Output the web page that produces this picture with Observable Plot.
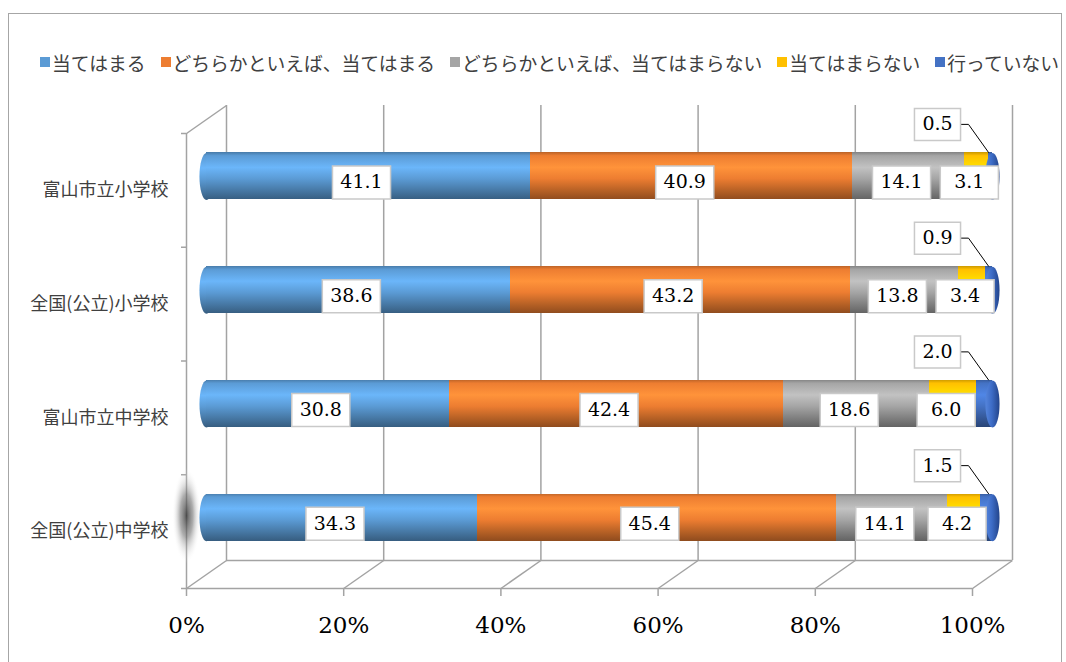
<!DOCTYPE html>
<html>
<head>
<meta charset="utf-8">
<script src="https://cdn.jsdelivr.net/npm/d3@7"></script>
<script src="https://cdn.jsdelivr.net/npm/@observablehq/plot@0.6"></script>
<style>
html, body { margin: 0; padding: 0; background: #fff; }
#wrap { position: relative; width: 1066px; height: 662px; overflow: hidden; }
#frame { position: absolute; left: 8px; top: 13px; width: 1054px; height: 720px; border: 1.5px solid #a6a6a6; box-sizing: border-box; pointer-events: none; }
#legend { position: relative; height: 90px; box-sizing: border-box; padding: 49px 0 0 40px; }
#legend .lg-swatches { font-family: "Noto Sans CJK JP", sans-serif !important; font-size: 18.8px !important; color: #404040; margin: 0 !important; white-space: nowrap; flex-wrap: nowrap !important; min-height: 26px !important; height: 26px; display: flex; align-items: center; }
#legend .lg-swatch { margin-right: 15px !important; white-space: nowrap; }
#legend .lg-swatch > svg { margin-right: 2px !important; }
#chart svg { display: block; }
</style>
</head>
<body>
<div id="wrap">
  <div id="frame"></div>
  <div id="legend"></div>
  <div id="chart"></div>
</div>
<script>
// ---- data ----
const categories = ["富山市立小学校", "全国(公立)小学校", "富山市立中学校", "全国(公立)中学校"];
const seriesNames = ["当てはまる", "どちらかといえば、当てはまる", "どちらかといえば、当てはまらない", "当てはまらない", "行っていない"];
const applies = [41.1, 38.6, 30.8, 34.3];
const ratherApplies = [40.9, 43.2, 42.4, 45.4];
const ratherNot = [14.1, 13.8, 18.6, 14.1];
const notApply = [3.1, 3.4, 6.0, 4.2];
const notDoing = [0.5, 0.9, 2.0, 1.5];
const tickValues = [0, 20, 40, 60, 80, 100];

const seriesValues = [applies, ratherApplies, ratherNot, notApply, notDoing];
const seriesColors = ["#5B9BD5", "#ED7D31", "#A5A5A5", "#FFC000", "#4472C4"];

// 100% stacked table
const table = [];
categories.forEach((cat, i) => {
  const total = d3.sum(seriesValues, v => v[i]);
  let acc = 0;
  seriesValues.forEach((vals, s) => {
    const v = vals[i];
    table.push({cat, i, s, series: seriesNames[s], value: v, x1: acc / total * 100, x2: (acc + v) / total * 100});
    acc += v;
  });
});
const catIdx = categories.map((c, i) => i);
const N = categories.length;

// ---- layout / style ----
const W = 1066, H = 572, ML = 186, MR = 94, MT = 43, MB = 74;
const kx = (W - ML - MR) / 100, ky = (H - MT - MB) / N;
const DX = 40, DY = -28;      // depth of the 3D box (px)
const MDX = 20, MDY = -14;    // bars sit at mid depth
const BAR_R = 23.5;           // cylinder radius (px)
const grid = {stroke: "#a3a3a3", strokeWidth: 1.5};

function ellipse(ratio) {
  return {draw(ctx, size) {
    const ry = Math.sqrt(size / Math.PI), rx = ry * ratio, k = 0.5523;
    ctx.moveTo(rx, 0);
    ctx.bezierCurveTo(rx, ry * k, rx * k, ry, 0, ry);
    ctx.bezierCurveTo(-rx * k, ry, -rx, ry * k, -rx, 0);
    ctx.bezierCurveTo(-rx, -ry * k, -rx * k, -ry, 0, -ry);
    ctx.bezierCurveTo(rx * k, -ry, rx, -ry * k, rx, 0);
    ctx.closePath();
  }};
}
function box(ratio) {
  return {draw(ctx, size) {
    const r = Math.sqrt(size / Math.PI), w = r * ratio;
    ctx.rect(-w, -r, 2 * w, 2 * r);
  }};
}

const inner = table.filter(d => d.s < 4);
const outer = table.filter(d => d.s === 4);
const leaderPts = outer.flatMap(d =>
  [[-12, -66], [-4, -66], [16, -38]].map(([px, py]) => ({i: d.i, x: 100 + px / kx, y: d.i + 0.5 + py / ky}))
);

const chart = Plot.plot({
  width: W, height: H,
  marginLeft: ML, marginRight: MR, marginTop: MT, marginBottom: MB,
  x: {domain: [0, 100], axis: null},
  y: {domain: [0, N], reverse: true, axis: null},
  style: {background: "transparent", overflow: "visible"},
  marks: [
    // 3D frame: back wall gridlines, floor, left wall
    Plot.ruleX(tickValues, {x: d => d, y1: 0, y2: N, dx: DX, dy: DY, ...grid}),
    Plot.ruleX([0], {x: d => d, y1: 0, y2: N, ...grid}),
    Plot.ruleY([N], {y: d => d, x1: 0, x2: 100, ...grid}),
    Plot.ruleY([N], {y: d => d, x1: 0, x2: 100, dx: DX, dy: DY, ...grid}),
    Plot.link(tickValues, {x1: d => d, y1: N, x2: d => d + DX / kx, y2: N + DY / ky, ...grid}),
    Plot.link([0], {x1: 0, y1: 0, x2: DX / kx, y2: DY / ky, ...grid}),
    Plot.ruleY(d3.range(N + 1), {y: d => d, x1: -5 / kx, x2: 0, ...grid}),
    Plot.ruleX(tickValues, {x: d => d, y1: N, y2: N + 8 / ky, ...grid}),
    // shadow artefact at the last bar's left end
    Plot.dot([N - 1], {x: 0, y: d => d + 0.5, r: 48, symbol: ellipse(0.3), fill: "url(#shadow)", dy: -16}),
    // cylinder left ends
    Plot.dot(catIdx, {x: 0, y: d => d + 0.5, r: BAR_R, symbol: ellipse(0.3), fill: "url(#cyl0)", dx: MDX, dy: MDY}),
    // cylinder segments
    ...seriesNames.map((n, s) => Plot.rect(table.filter(d => d.s === s), {
      x1: "x1", x2: "x2",
      y1: d => d.i + 0.5 - BAR_R / ky, y2: d => d.i + 0.5 + BAR_R / ky,
      fill: `url(#cyl${s})`, dx: MDX, dy: MDY, shapeRendering: "crispEdges"
    })),
    // cylinder right caps
    Plot.dot(catIdx, {x: 100, y: d => d + 0.5, r: BAR_R, symbol: ellipse(0.3), fill: "url(#cap)", dx: MDX, dy: MDY}),
    // data labels
    Plot.dot(inner, {x: d => (d.x1 + d.x2) / 2, y: d => d.i + 0.5, r: 16.5, symbol: box(1.76), fill: "#fff", stroke: "#c9c9c9", strokeWidth: 1.5, dx: 13, dy: -8}),
    Plot.text(inner, {x: d => (d.x1 + d.x2) / 2, y: d => d.i + 0.5, text: d => d.value.toFixed(1), dx: 13, dy: -8, fontFamily: "DejaVu Serif", fontSize: 19, fill: "#000"}),
    Plot.line(leaderPts, {x: "x", y: "y", z: "i", stroke: "#000", strokeWidth: 1}),
    Plot.dot(outer, {x: 100, y: d => d.i + 0.5, r: 16, symbol: box(1.44), fill: "#fff", stroke: "#c9c9c9", strokeWidth: 1.5, dx: -35, dy: -66}),
    Plot.text(outer, {x: 100, y: d => d.i + 0.5, text: d => d.value.toFixed(1), dx: -35, dy: -66, fontFamily: "DejaVu Serif", fontSize: 19, fill: "#000"}),
    // category labels
    Plot.text(categories, {x: 0, y: (d, i) => i + 0.5, text: d => d, textAnchor: "end", dx: -18, fontFamily: "Noto Sans CJK JP", fontSize: 18, fill: "#404040"}),
    // tick labels
    Plot.text(tickValues, {x: d => d, y: N, text: d => d + "%", dy: 37, fontFamily: "DejaVu Serif", fontSize: 23, fill: "#000"})
  ]
});

// gradients for the cylinder look
const defs = d3.select(chart).insert("defs", ":first-child");
seriesColors.forEach((c, s) => {
  const base = d3.rgb(c);
  const g = defs.append("linearGradient").attr("id", `cyl${s}`)
    .attr("x1", 0).attr("y1", 0).attr("x2", 0).attr("y2", 1);
  [[0, base.darker(0.6)], [0.07, base], [0.32, base.brighter(0.45)], [0.56, base],
   [0.82, base.darker(0.75)], [1, base.darker(1.4)]]
    .forEach(([o, col]) => g.append("stop").attr("offset", o).attr("stop-color", col.formatHex()));
});
const cap = defs.append("linearGradient").attr("id", "cap").attr("x1", 0).attr("y1", 0).attr("x2", 1).attr("y2", 0);
[[0, "#5585dc"], [0.45, "#3d6cc6"], [1, "#23448a"]].forEach(([o, c]) => cap.append("stop").attr("offset", o).attr("stop-color", c));
const sh = defs.append("radialGradient").attr("id", "shadow");
[[0, "#3c3c3c", 0.85], [0.45, "#6a6a6a", 0.55], [1, "#ffffff", 0]].forEach(([o, c, a]) =>
  sh.append("stop").attr("offset", o).attr("stop-color", c).attr("stop-opacity", a));

document.getElementById("chart").appendChild(chart);

const legend = Plot.legend({
  color: {domain: seriesNames, range: seriesColors},
  swatchSize: 10,
  className: "lg"
});
document.getElementById("legend").appendChild(legend);
</script>
</body>
</html>
